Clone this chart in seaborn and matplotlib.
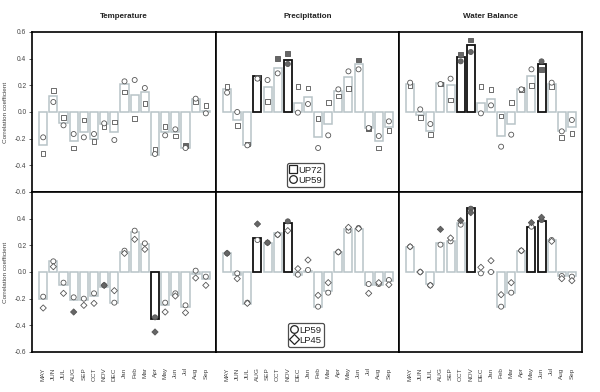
import matplotlib
matplotlib.use("Agg")
import matplotlib.pyplot as plt
from matplotlib.lines import Line2D
import seaborn as sns
import pandas as pd
import numpy as np

sns.set_theme(style="white")
plt.rcParams['font.family'] = ['Liberation Sans', 'DejaVu Sans']

months = ["MAY", "JUN", "JUL", "AUG", "SEP", "OCT", "NOV", "DEC", "Jan", "Feb",
          "Mar", "Apr", "May", "Jun", "Jul", "Aug", "Sep"]
columns = ["Temperature", "Precipitation", "Water Balance"]

# upper row: UP72 (squares) and UP59 (circles)
temp_up_bar = [-0.25, 0.12, -0.08, -0.22, -0.15, -0.20, -0.09, -0.15, 0.21, 0.13, 0.15, -0.325, -0.15, -0.15, -0.27, 0.10, 0.01]
temp_up72 = [-0.31, 0.16, -0.043, -0.27, -0.06, -0.22, -0.11, -0.075, 0.15, -0.05, 0.065, -0.28, -0.11, -0.18, -0.25, 0.075, 0.05]
temp_up59 = [-0.19, 0.075, -0.10, -0.165, -0.19, -0.165, -0.085, -0.21, 0.23, 0.24, 0.18, -0.315, -0.175, -0.13, -0.27, 0.10, -0.01]

prec_up_bar = [0.17, -0.06, -0.25, 0.27, 0.19, 0.33, 0.39, 0.07, 0.11, -0.19, -0.09, 0.16, 0.26, 0.36, -0.12, -0.22, -0.11]
prec_up72 = [0.19, -0.10, -0.24, 0.26, 0.08, 0.40, 0.44, 0.19, 0.18, -0.05, 0.07, 0.12, 0.175, 0.39, -0.125, -0.27, -0.14]
prec_up59 = [0.145, 0.0, -0.25, 0.25, 0.24, 0.29, 0.36, -0.005, 0.06, -0.27, -0.175, 0.17, 0.305, 0.32, -0.12, -0.18, -0.07]

wb_up_bar = [0.21, -0.02, -0.14, 0.22, 0.20, 0.41, 0.50, 0.07, 0.10, -0.18, -0.09, 0.17, 0.27, 0.36, 0.21, -0.14, -0.11]
wb_up72 = [0.20, -0.04, -0.17, 0.21, 0.09, 0.43, 0.54, 0.19, 0.17, -0.03, 0.07, 0.17, 0.20, 0.32, 0.19, -0.19, -0.16]
wb_up59 = [0.22, 0.02, -0.09, 0.21, 0.25, 0.38, 0.45, -0.01, 0.05, -0.26, -0.17, 0.17, 0.32, 0.38, 0.22, -0.145, -0.06]

# lower row: LP59 (circles) and LP45 (diamonds)
temp_lp_bar = [-0.205, 0.08, -0.095, -0.21, -0.21, -0.18, -0.11, -0.23, 0.15, 0.30, 0.21, -0.35, -0.245, -0.17, -0.26, -0.015, -0.05]
temp_lp59 = [-0.185, 0.08, -0.08, -0.19, -0.20, -0.16, -0.10, -0.23, 0.16, 0.31, 0.215, -0.34, -0.23, -0.16, -0.25, 0.01, -0.035]
temp_lp45 = [-0.27, 0.04, -0.16, -0.30, -0.25, -0.235, -0.10, -0.14, 0.14, 0.245, 0.17, -0.45, -0.30, -0.18, -0.305, -0.045, -0.10]

prec_lp_bar = [0.14, -0.02, -0.24, 0.255, 0.22, 0.29, 0.37, -0.02, 0.01, -0.26, -0.145, 0.15, 0.32, 0.32, -0.095, -0.10, -0.065]
prec_lp59 = [0.14, -0.01, -0.23, 0.24, 0.22, 0.28, 0.38, -0.02, 0.015, -0.26, -0.155, 0.15, 0.31, 0.33, -0.09, -0.09, -0.06]
prec_lp45 = [0.14, -0.05, -0.235, 0.36, 0.22, 0.28, 0.31, 0.025, 0.09, -0.175, -0.08, 0.15, 0.335, 0.325, -0.16, -0.08, -0.095]

wb_lp_bar = [0.185, 0.0, -0.09, 0.22, 0.23, 0.37, 0.48, 0.0, 0.0, -0.26, -0.16, 0.155, 0.34, 0.38, 0.24, -0.03, -0.03]
wb_lp59 = [0.19, 0.0, -0.10, 0.205, 0.23, 0.355, 0.475, -0.01, 0.0, -0.26, -0.155, 0.16, 0.34, 0.39, 0.24, -0.03, -0.035]
wb_lp45 = [0.19, 0.0, -0.10, 0.32, 0.255, 0.385, 0.445, 0.035, 0.085, -0.17, -0.08, 0.16, 0.37, 0.41, 0.23, -0.05, -0.065]

# significant months (index into months)
temp_up_sig = {"bar": [], "a": [14], "b": []}
prec_up_sig = {"bar": [3, 6], "a": [3, 5, 6, 13, 14], "b": [6]}
wb_up_sig = {"bar": [5, 6, 13], "a": [5, 6, 13], "b": [5, 6, 13]}
temp_lp_sig = {"bar": [11], "a": [11], "b": [3, 6, 11]}
prec_lp_sig = {"bar": [3, 6], "a": [6], "b": [0, 3, 4]}
wb_lp_sig = {"bar": [6, 12, 13], "a": [6, 13], "b": [3, 5, 6, 12, 13]}

panels = [
    [(temp_up_bar, temp_up72, temp_up59, temp_up_sig),
     (prec_up_bar, prec_up72, prec_up59, prec_up_sig),
     (wb_up_bar, wb_up72, wb_up59, wb_up_sig)],
    [(temp_lp_bar, temp_lp59, temp_lp45, temp_lp_sig),
     (prec_lp_bar, prec_lp59, prec_lp45, prec_lp_sig),
     (wb_lp_bar, wb_lp59, wb_lp45, wb_lp_sig)],
]
row_markers = [("s", "o"), ("o", "D")]
row_labels = [("UP72", "UP59"), ("LP59", "LP45")]
row_msize = [(11, 13), (13, 10)]

W, H = 600, 392
fig = plt.figure(figsize=(6, 3.92), dpi=100)
# panel edges in pixels, shared borders coincide
xedges = [32, 216, 399, 582]
yedges = [32, 192, 352]

bar_grey = "#b8c3c7"
mk_edge = "#555555"
x = np.arange(len(months))

for r in range(2):
    for c in range(3):
        bars, s1, s2, sig = panels[r][c]
        l, rr = xedges[c], xedges[c + 1]
        t, b = yedges[r], yedges[r + 1]
        ax = fig.add_axes([l / W, 1 - b / H, (rr - l) / W, (b - t) / H])
        df = pd.DataFrame({"month": months, "value": bars})
        sns.barplot(data=df, x="month", y="value", ax=ax, color="white",
                    edgecolor=bar_grey, linewidth=1.1, width=0.8, saturation=1)
        for i, patch in enumerate(ax.patches):
            patch.set_facecolor("white")
            if i in sig["bar"]:
                patch.set_edgecolor("#111111")
                patch.set_linewidth(1.3)
                patch.set_zorder(3)
        for series, mk, key, ms in [(s1, row_markers[r][0], "a", row_msize[r][0]),
                                    (s2, row_markers[r][1], "b", row_msize[r][1])]:
            vals = np.array(series)
            face = ["#666666" if i in sig[key] else "white" for i in range(len(vals))]
            ax.scatter(x, vals, marker=mk, s=ms, facecolors=face,
                       edgecolors=mk_edge, linewidths=0.6, zorder=4)
        ax.set_xlim(-1.1, 17.0)
        ax.set_ylim(-0.6, 0.6)
        ax.set_xlabel("")
        ax.set_ylabel("")
        for sp in ax.spines.values():
            sp.set_color("black")
            sp.set_linewidth(1.2)
        ax.set_yticks([-0.6, -0.4, -0.2, 0.0, 0.2, 0.4, 0.6])
        if c == 0:
            labels = ["-0.6", "-0.4", "-0.2", "0.0", "0.2", "0.4", "0.6" if r == 0 else ""]
            ax.set_yticklabels(labels)
            ax.tick_params(axis="y", direction="out", length=2.5, width=0.6,
                           labelsize=4.8, labelcolor="#444444", color="#444444", pad=1.5, left=True)
        else:
            ax.tick_params(axis="y", left=False, labelleft=False)
        if r == 1:
            ax.set_xticks(x)
            ax.set_xticklabels(months, rotation=90)
            ax.tick_params(axis="x", bottom=False, labelsize=4.6, labelcolor="#444444", pad=5)
        else:
            ax.tick_params(axis="x", bottom=False, labelbottom=False)
        if c == 1:
            handles = [Line2D([], [], marker=row_markers[r][k], linestyle="none",
                              markerfacecolor="white", markeredgecolor="#222222",
                              markeredgewidth=0.9, markersize=5.5,
                              label=row_labels[r][k]) for k in range(2)]
            leg = ax.legend(handles=handles, loc="lower center", bbox_to_anchor=(0.49, 0.02),
                            fontsize=6.8, frameon=True, fancybox=True, handlelength=0.8,
                            handletextpad=0.15, borderpad=0.25, labelspacing=0.1,
                            borderaxespad=0.2)
            leg.get_frame().set_edgecolor("#222222")
            leg.get_frame().set_linewidth(0.9)
            for txt in leg.get_texts():
                txt.set_color("#222222")
        if r == 0:
            fig.text(((l + rr) / 2) / W, 1 - 16 / H, columns[c], ha="center",
                     va="center", fontsize=5.8, fontweight="bold", color="#222222")
    fig.text(6 / W, 1 - ((yedges[r] + yedges[r + 1]) / 2) / H, "Correlation coefficient",
             rotation=90, ha="center", va="center", fontsize=4.6, color="#444444")

fig.savefig("out.png", dpi=100, facecolor="white")
